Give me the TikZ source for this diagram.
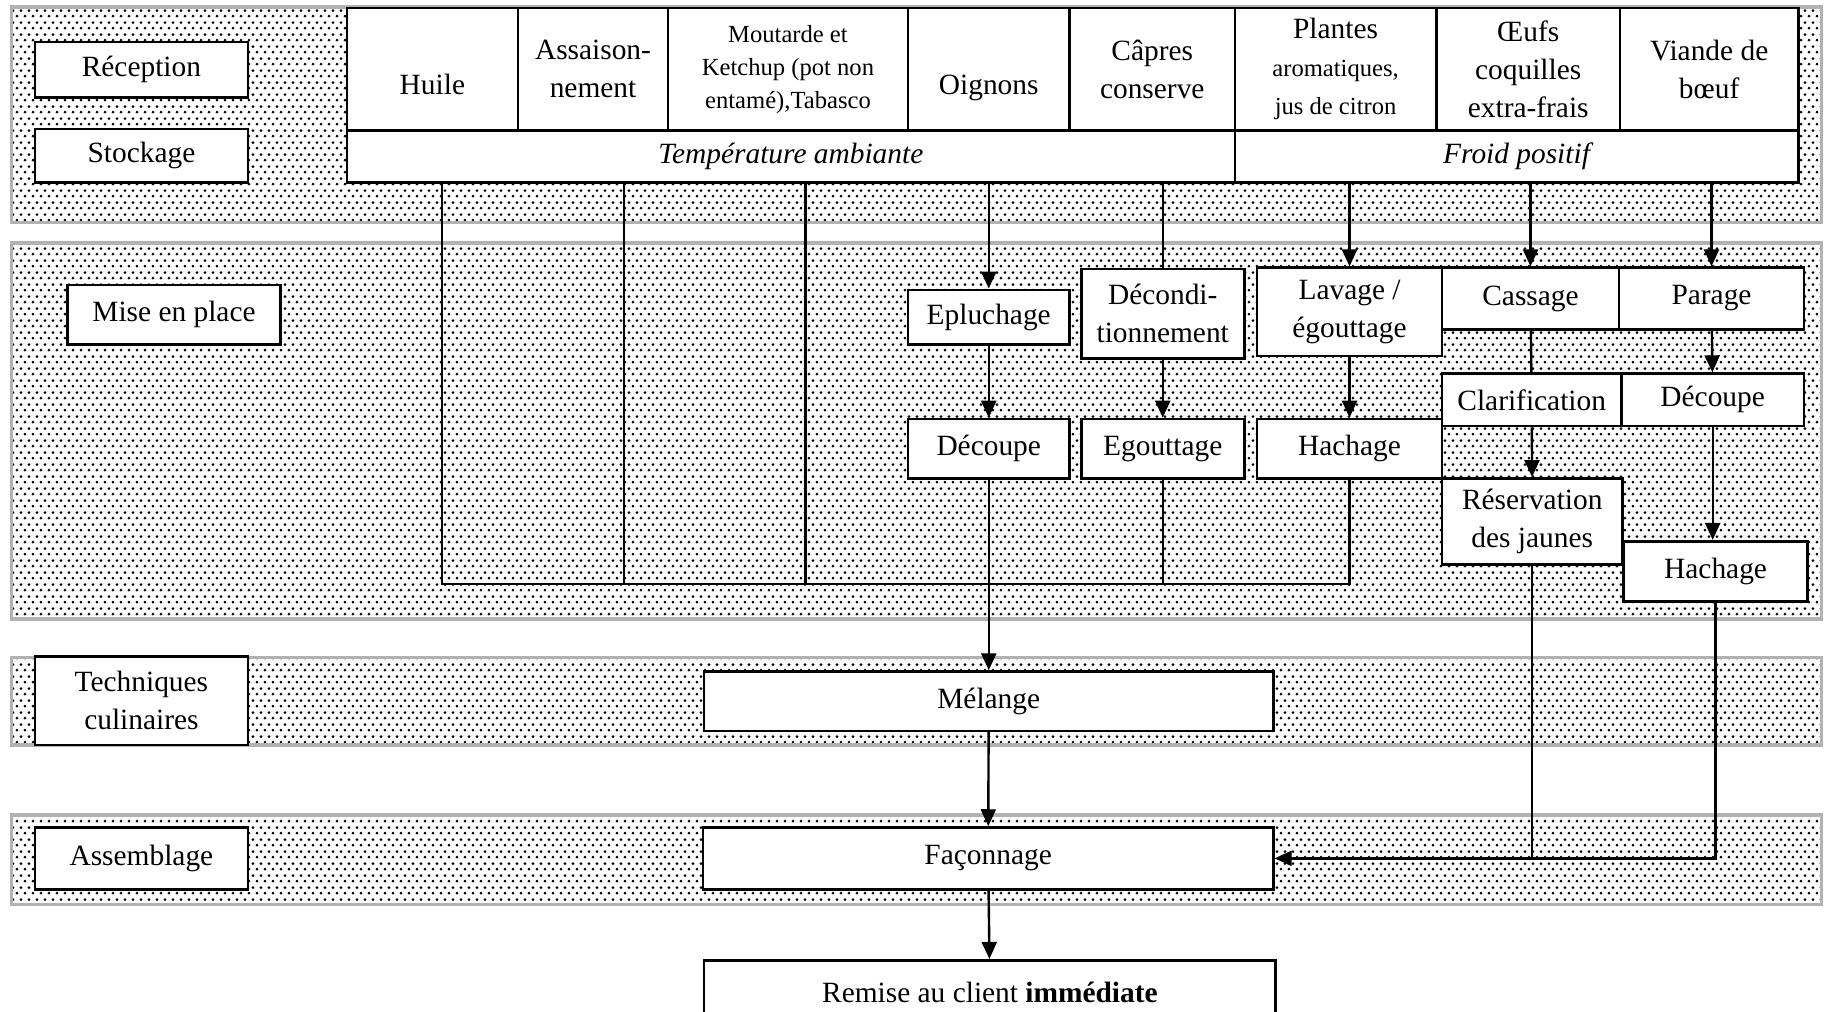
\documentclass[tikz,border=0pt]{standalone}
\usepackage{fontspec}
\setmainfont{Liberation Serif}
\usepackage{tikz}
\usetikzlibrary{patterns.meta}
\usetikzlibrary{arrows.meta}
\newcommand{\bigtxt}{\fontsize{14.7}{19}\selectfont}
\newcommand{\smalltxt}{\fontsize{12.3}{16.5}\selectfont}
\pgfdeclarepattern{name=banddots, type=uncolored,
  bottom left={\pgfpoint{0pt}{0pt}}, top right={\pgfpoint{4pt}{5.8pt}},
  tile size={\pgfpoint{4pt}{5.8pt}},
  code={\pgfpathcircle{\pgfpoint{1pt}{1.45pt}}{0.75pt}
        \pgfpathcircle{\pgfpoint{3pt}{4.35pt}}{0.75pt}
        \pgfusepath{fill}}}
\tikzset{corners/.style n args={4}{minimum width={(#3-#1)*0.582pt},
  minimum height={(#4-#2)*0.582pt}, at={({(#1+#3)/2},{(#2+#4)/2})}}}
\tikzstyle{band}=[rectangle, draw=gray!60, line width=1.8pt,
  pattern=banddots, pattern color=black, inner sep=0pt]
\tikzstyle{phase}=[rectangle, draw, line width=1.3pt, fill=white,
  inner sep=0pt, align=center]
\tikzstyle{lowtext}=[text height=25pt, text depth=0pt]
\tikzstyle{arrflow}=[-{Triangle[length=8.5pt, width=7.5pt]}, line width=1.2pt]
\tikzstyle{arrlink}=[line width=1.2pt]

\begin{document}
\begin{tikzpicture}[x=0.582pt, y=-0.582pt, font=\bigtxt]

\useasboundingbox (0,0) rectangle (1568,869);
\fill[white] (0,0) rectangle (1568,869);

% bands
\node[band, corners={10}{6}{1565}{191}] (bandrec) {};
\node[band, corners={10}{209}{1565}{532}] (bandmep) {};
\node[band, corners={10}{565}{1565}{640}] (bandtech) {};
\node[band, corners={10}{700}{1565}{777}] (bandass) {};

% phases
\node[phase, corners={30}{36}{213}{84}] (reception) {Réception};
\node[phase, corners={30}{111}{213}{157}] (stockage) {Stockage};
\node[phase, corners={58}{245}{241}{296}] (miseplace) {Mise en place};
\node[phase, corners={30}{564}{213}{640}] (techniques) {Techniques\\culinaires};
\node[phase, corners={30}{711}{213}{764}] (assemblage) {Assemblage};

% reception
\node[phase, lowtext, corners={298}{7}{445}{112}] (huile) {Huile};
\node[phase, corners={445}{7}{574}{112}] (assais) {Assaison-\\nement};
\node[phase, font=\smalltxt, corners={574}{7}{780}{112}] (moutarde)
  {Moutarde et\\Ketchup (pot non\\entamé),Tabasco};
\node[phase, lowtext, corners={780}{7}{919}{112}] (oignons) {Oignons};
\node[phase, corners={919}{7}{1061}{112}] (capres) {Câpres\\conserve};
\node[phase, corners={1061}{7}{1234}{112}] (plantes)
  {Plantes\\{\smalltxt aromatiques,}\\{\smalltxt jus de citron}};
\node[phase, corners={1234}{7}{1392}{112}] (oeufs) {Œufs\\coquilles\\extra-frais};
\node[phase, corners={1392}{7}{1545}{112}] (viande) {Viande de\\bœuf};

% stockage
\node[phase, font=\bigtxt\itshape, corners={298}{112}{1061}{157}] (tamb)
  {Température ambiante};
\node[phase, font=\bigtxt\itshape, corners={1061}{112}{1545}{157}] (froid)
  {Froid positif};

% mise en place
\node[phase, corners={780}{249}{919}{296}] (eplu) {Epluchage};
\node[phase, corners={929}{231}{1069}{308}] (decond) {Décondi-\\tionnement};
\node[phase, corners={1080}{230}{1239}{306}] (lavage) {Lavage /\\égouttage};
\node[phase, corners={1239}{230}{1391}{283}] (cassage) {Cassage};
\node[phase, corners={1391}{230}{1550}{283}] (parage) {Parage};
\node[phase, corners={1239}{321}{1393}{366}] (clarif) {Clarification};
\node[phase, corners={1393}{321}{1550}{366}] (decoupeR) {Découpe};
\node[phase, corners={780}{360}{919}{411}] (decoupeL) {Découpe};
\node[phase, corners={929}{360}{1069}{411}] (egout) {Egouttage};
\node[phase, corners={1080}{360}{1239}{411}] (hachM) {Hachage};
\node[phase, corners={1239}{411}{1394}{485}] (reserv) {Réservation\\des jaunes};
\node[phase, corners={1395}{465}{1553}{517}] (hachR) {Hachage};

% techniques, assemblage, remise
\node[phase, corners={605}{577}{1094}{628}] (melange) {Mélange};
\node[phase, corners={604}{711}{1094}{764}] (faconnage) {Façonnage};
\node[phase, corners={605}{825}{1096}{880}] (remise)
  {Remise au client \textbf{immédiate}};

% ambient products joined
\coordinate (dropA) at (380,502);
\coordinate (dropB) at (536,502);
\coordinate (dropC) at (692,502);
\draw[arrlink] (dropA |- tamb.south) -- (dropA) -- (hachM.south |- dropA)
  -- (hachM.south);
\draw[arrlink] (dropB |- tamb.south) -- (dropB);
\draw[arrlink] (dropC |- tamb.south) -- (dropC);
\draw[arrlink] (egout.south) -- (egout.south |- dropA);

% storage to mise en place
\draw[arrflow] (eplu.north |- tamb.south) -- (eplu.north);
\draw[arrlink] (decond.north |- tamb.south) -- (decond.north);
\draw[arrflow] (lavage.north |- froid.south) -- (lavage.north);
\draw[arrflow] (cassage.north |- froid.south) -- (cassage.north);
\draw[arrflow] (parage.north |- froid.south) -- (parage.north);

% inside mise en place
\draw[arrflow] (eplu) -- (decoupeL);
\draw[arrflow] (decond) -- (egout);
\draw[arrflow] (lavage) -- (hachM);
\draw[arrlink] (cassage) -- (clarif);
\draw[arrflow] (parage) -- (decoupeR);
\draw[arrflow] (clarif) -- (reserv);
\draw[arrflow] (decoupeR.south) -- (decoupeR.south |- hachR.north);

% down to the client
\draw[arrflow] (decoupeL.south) -- (melange.north);
\draw[arrflow] (melange) -- (faconnage);
\draw[arrflow] (faconnage) -- (remise);
\draw[arrlink] (reserv.south) -- (reserv.south |- faconnage.east);
\draw[arrflow] (hachR.south) |- (faconnage.east);

\end{tikzpicture}
\end{document}
